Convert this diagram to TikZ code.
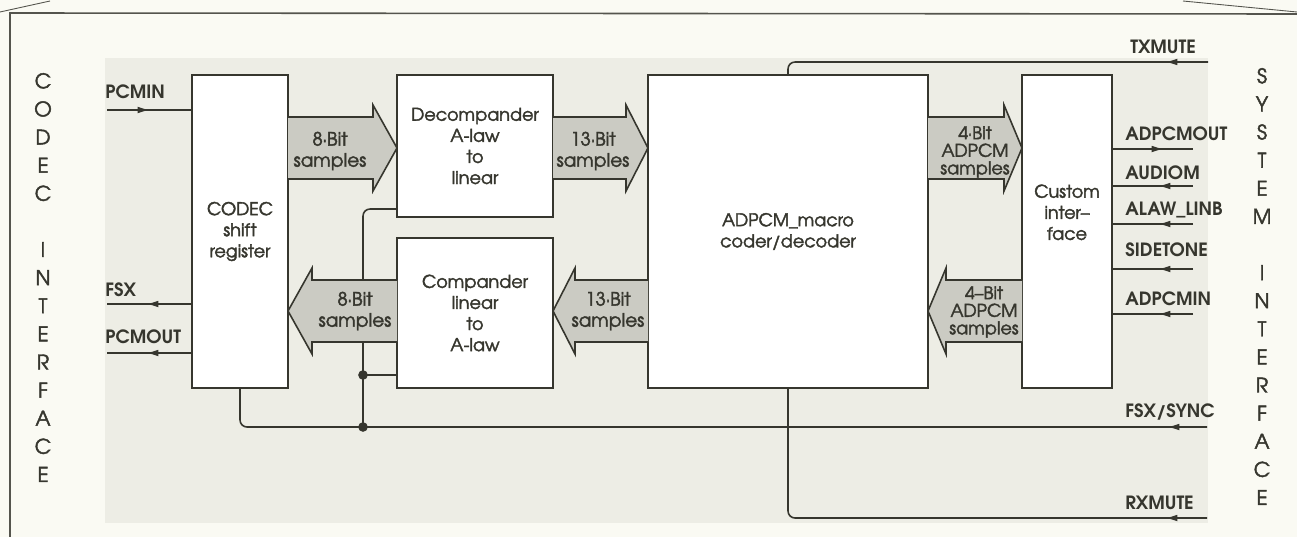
\documentclass[tikz,border=0pt]{standalone}
\usepackage{fontspec}
\setmainfont{TeX Gyre Adventor}
\newfontfamily\demifont{TeX Gyre Adventor}[FakeBold=2.2,Ligatures=TeX]
\usetikzlibrary{arrows.meta,decorations.markings}
\definecolor{ink}{HTML}{36362E}
\definecolor{paper}{HTML}{FAFAF3}
\definecolor{panelgray}{HTML}{EDEDE5}
\definecolor{fatgray}{HTML}{CBCBC3}

% fat data arrow: base x, tip x, centre y, head length (signed)
\newcommand{\fatarrow}[4]{%
  \filldraw[fat] ({#1},{#3-31}) -- ({#2-#4},{#3-31}) -- ({#2-#4},{#3-43}) -- ({#2},{#3})
    -- ({#2-#4},{#3+43}) -- ({#2-#4},{#3+31}) -- ({#1},{#3+31});
}

\begin{document}
\begin{tikzpicture}[
    x=0.02cm, y=-0.02cm,
    blk/.style={draw=ink, fill=white, line width=1.1pt, inner sep=0pt, align=center,
      font=\demifont\fontsize{10}{12}\selectfont, text=ink},
    sig/.style={draw=ink, line width=0.9pt, rounded corners=4pt},
    lbl/.style={anchor=west, inner sep=0pt, font=\bfseries\fontsize{10.4}{12}\selectfont, text=ink},
    fat/.style={draw=ink, fill=fatgray, line width=0.9pt},
    fattext/.style={align=center, inner sep=0pt, font=\demifont\fontsize{10.5}{12}\selectfont, text=ink},
    tight/.style={font=\demifont\fontsize{10}{10}\selectfont},
    side/.style={align=center, inner sep=0pt, font=\demifont\fontsize{11.5}{16}\selectfont, text=ink},
    dot/.style={circle, fill=ink, inner sep=0pt, minimum size=5.5pt},
    midarrow/.style={postaction={decorate}, decoration={markings,
      mark=at position #1 with {\arrow{Latex[length=7pt,width=3.8pt]}}}},
    frame/.style={draw=ink!85, line width=0.9pt}
]
    % page and shaded panel
    \fill[paper] (0,0) rectangle (1297,537);
    \useasboundingbox (0,0) rectangle (1297,537);
    \fill[panelgray] (105,58) rectangle (1208,523);
    \draw[frame] (10,537) -- (10,13) -- (1297,14);
    \draw[frame, line width=0.5pt] (0,12) -- (50,1);
    \draw[frame, line width=0.5pt] (1183,1) -- (1297,12);

    % blocks
    \node[blk, minimum width=1.92cm, minimum height=6.26cm] (codec) at (240,231.5) {CODEC\\shift\\register};
    \node[blk, minimum width=3.12cm, minimum height=2.84cm] (decomp) at (475,146) {Decompander\\A-law\\to\\linear};
    \node[blk, minimum width=3.12cm, minimum height=3.0cm] (comp) at (475,313) {Compander\\linear\\to\\A-law};
    \node[blk, minimum width=5.6cm, minimum height=6.26cm] (adpcm) at (788,231.5) {ADPCM\_macro\\coder/decoder};
    \node[blk, minimum width=1.8cm, minimum height=6.26cm] (custom) at (1067,231.5) {Custom\\inter–\\face\\[0.35cm]};

    % codec side signals
    \coordinate (pcmin) at (107,110);
    \coordinate (fsx) at (107,304);
    \coordinate (pcmout) at (107,353);
    \draw[sig, midarrow=0.86cm] (pcmin) -- (pcmin -| codec.west);
    \draw[sig, midarrow=0.9cm] (fsx -| codec.west) -- (fsx);
    \draw[sig, midarrow=0.9cm] (pcmout -| codec.west) -- (pcmout);

    % system side signals
    \coordinate (adpcmout) at (1193,149);
    \draw[sig, midarrow=1.02cm] (adpcmout -| custom.east) -- (adpcmout);
    \foreach \sname/\yy in {audiom/186, alaw/224, sidetone/269, adpcmin/314} {
        \coordinate (\sname) at (1193,\yy);
        \draw[sig, midarrow=0.7cm] (\sname) -- (\sname -| custom.east);
    }
    \coordinate (txmute) at (1208,62);
    \draw[sig, midarrow=0.86cm] (txmute) -- (adpcm.north |- txmute) -- (adpcm.north);
    \coordinate (rxmute) at (1207,518);
    \draw[sig, midarrow=0.84cm] (rxmute) -- (adpcm.south |- rxmute) -- (adpcm.south);

    % frame sync bus
    \coordinate (sync) at (1207,427);
    \coordinate (j1) at (363,427);
    \coordinate (j2) at (363,375);
    \coordinate (k) at (363,209);
    \draw[sig, midarrow=0.8cm] (sync) -- (codec.south |- sync) -- (codec.south);
    \draw[sig] (j1) -- (j2) -- (k) -- (k -| decomp.west);
    \draw[sig] (j2) -- (j2 -| comp.west);
    \node[dot] (d1) at (j1) {};
    \node[dot] (d2) at (j2) {};

    % data paths
    \fatarrow{288}{397}{148}{24}
    \fatarrow{553}{648}{148}{22}
    \fatarrow{928}{1022}{148}{18}
    \fatarrow{397}{288}{311}{-24}
    \fatarrow{648}{553}{311}{-22}
    \fatarrow{1022}{928}{311}{-18}
    \node[fattext] (t8a) at (330,151) {8·Bit\\samples};
    \node[fattext] (t13a) at (593,151) {13·Bit\\samples};
    \node[fattext, tight] (t4a) at (975,152) {4·Bit\\ADPCM\\samples};
    \node[fattext] (t8b) at (355,311) {8·Bit\\samples};
    \node[fattext] (t13b) at (608,311) {13·Bit\\samples};
    \node[fattext, tight] (t4b) at (984,312) {4–Bit\\ADPCM\\samples};

    % signal names
    \node[lbl] (l-pcmin) at (105,92) {PCMIN};
    \node[lbl] (l-fsx) at (105,290) {FSX};
    \node[lbl] (l-pcmout) at (105,337) {PCMOUT};
    \node[lbl] (l-txmute) at (1130,47) {TXMUTE};
    \node[lbl] (l-adpcmout) at (1125,134) {ADPCMOUT};
    \node[lbl] (l-audiom) at (1125,173) {AUDIOM};
    \node[lbl] (l-alaw) at (1125,210) {ALAW\_LINB};
    \node[lbl] (l-sidetone) at (1125,250) {SIDETONE};
    \node[lbl] (l-adpcmin) at (1125,299) {ADPCMIN};
    \node[lbl] (l-sync) at (1125,412) {FSX/SYNC};
    \node[lbl] (l-rxmute) at (1125,503) {RXMUTE};

    % interface captions
    \node[side] (codecif) at (43,277.5) {C\\O\\D\\E\\C\\~\\I\\N\\T\\E\\R\\F\\A\\C\\E};
    \node[side] (sysif) at (1262,286.5) {S\\Y\\S\\T\\E\\M\\~\\I\\N\\T\\E\\R\\F\\A\\C\\E};
\end{tikzpicture}
\end{document}
